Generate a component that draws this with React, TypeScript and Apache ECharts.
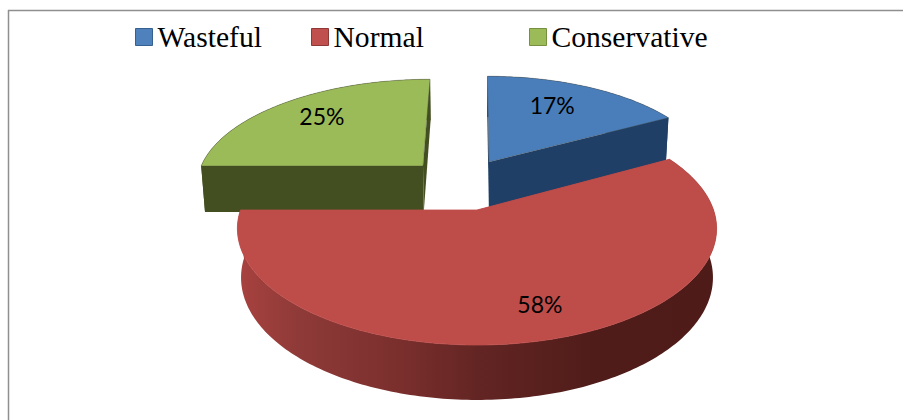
import React, { useEffect, useRef } from "react";
import * as echarts from "echarts";

const categories = ["Wasteful", "Normal", "Conservative"];
const values = [17, 58, 25];
const topColors = ["#4A7EBB", "#BE4D4A", "#9BBB59"];
const legendBorders = ["#35608f", "#8f3836", "#76903f"];
const legendLefts = [135, 311, 529];
const legendGlyphColors = ["#4F81BD", "#C0504D", "#9BBB59"];
const wallColors = [
  [[0, "#1F3F66"], [1, "#254A75"]],
  [[0, "#A8423F"], [0.13, "#8E3A38"], [0.34, "#7A2F2D"], [0.5, "#632523"], [0.75, "#4F1C19"], [1, "#4E1B18"]],
  [[0, "#434F20"], [1, "#465222"]],
];
// slice displacement from the pie axis, in units of the radius
const explode = [[0.0544, 0.454], [0, 0], [-0.2434, 0.4137]];
const labelRadius = [0.68, 0.75, 0.72];
const labelNudge = [[-6, -4], [13, 1], [0, -3]];

// projection of the tilted pie
const CX = 477;
const CY = 210;
const AX = 236.5;
const AZ = 113.4;
const DEPTH = 49;
const KZ = 0.16;
const KH = 0.015;

function project(x: number, z: number, h: number): number[] {
  const w = 1 + KZ * z + KH * h;
  return [CX + (AX * x) / w, CY + (-AZ * z + DEPTH * h) / w];
}

function arc(idx: number, a0: number, a1: number, h: number): number[][] {
  const [ex, ez] = explode[idx];
  const n = Math.max(2, Math.ceil(Math.abs(a1 - a0) / 1));
  const pts: number[][] = [];
  for (let i = 0; i <= n; i++) {
    const a = ((a0 + ((a1 - a0) * i) / n) * Math.PI) / 180;
    pts.push(project(ex + Math.sin(a), ez + Math.cos(a), h));
  }
  return pts;
}

function makeRenderItem(idx: number) {
  const total = values.reduce((s, v) => s + v, 0);
  const start = values.slice(0, idx).reduce((s, v) => s + v, 0);
  return (_p: unknown, api: any) => {
    const a0 = (start / total) * 360;
    const a1 = a0 + (api.value(0) / total) * 360;
    const [ex, ez] = explode[idx];
    const apexT = project(ex, ez, 0);
    const apexB = project(ex, ez, 1);
    const topArc = arc(idx, a0, a1, 0);
    const botArc = arc(idx, a0, a1, 1);
    const wallFill = new echarts.graphic.LinearGradient(
      0, 0, 1, 0,
      wallColors[idx].map((s) => ({ offset: s[0] as number, color: s[1] as string }))
    );
    const flat = wallColors[idx][0][1] as string;
    const mid = ((a0 + a1) / 2) * (Math.PI / 180);
    const r = labelRadius[idx];
    const lp = project(ex + r * Math.sin(mid), ez + r * Math.cos(mid), 0);
    const poly = (points: number[][], style: object) => ({
      type: "polygon",
      shape: { points },
      style,
    });
    return {
      type: "group",
      children: [
        poly([...topArc, ...botArc.slice().reverse()], { fill: wallFill }),
        poly([apexT, topArc[0], botArc[0], apexB], { fill: flat }),
        poly([apexT, topArc[topArc.length - 1], botArc[botArc.length - 1], apexB], { fill: flat }),
        poly([apexT, ...topArc], {
          fill: topColors[idx],
          stroke: idx === 1 ? topColors[idx] : "rgba(70,70,60,0.45)",
          lineWidth: 0.8,
        }),
        {
          type: "text",
          z2: 50,
          style: {
            x: lp[0] + labelNudge[idx][0],
            y: lp[1] + labelNudge[idx][1],
            text: `${api.value(0)}%`,
            fill: "#000000",
            font: '23px Lato, "Noto Sans", sans-serif',
            align: "center",
            verticalAlign: "middle",
          },
        },
      ],
    };
  };
}

export default function App() {
  const ref = useRef<HTMLDivElement>(null);
  useEffect(() => {
    document.body.style.margin = "0";
    const chart = echarts.init(ref.current!, undefined, { renderer: "svg" });
    chart.setOption({
      animation: false,
      backgroundColor: "#ffffff",
      legend: categories.map((name, i) => ({
        data: [name],
        left: legendLefts[i],
        top: 22,
        padding: 0,
        icon: "rect",
        itemWidth: 17,
        itemHeight: 17,
        selectedMode: false,
        itemStyle: { color: legendGlyphColors[i], borderColor: legendBorders[i], borderWidth: 1 },
        textStyle: {
          fontFamily: '"Liberation Serif", serif',
          fontSize: 29.6,
          color: "#000000",
        },
      })),
      graphic: [
        { type: "line", shape: { x1: 8, y1: 10.5, x2: 903, y2: 10.5 }, style: { stroke: "#8f8f8f", lineWidth: 1.5 } },
        { type: "line", shape: { x1: 8.5, y1: 10, x2: 8.5, y2: 420 }, style: { stroke: "#8f8f8f", lineWidth: 1.5 } },
      ],
      series: categories.map((name, i) => ({
        type: "custom",
        name,
        coordinateSystem: "none",
        z: i === 1 ? 3 : 2,
        itemStyle: { color: legendGlyphColors[i] },
        data: [[values[i]]],
        renderItem: makeRenderItem(i),
      })),
    });
    return () => chart.dispose();
  }, []);
  return <div ref={ref} style={{ width: 903, height: 420 }} />;
}
